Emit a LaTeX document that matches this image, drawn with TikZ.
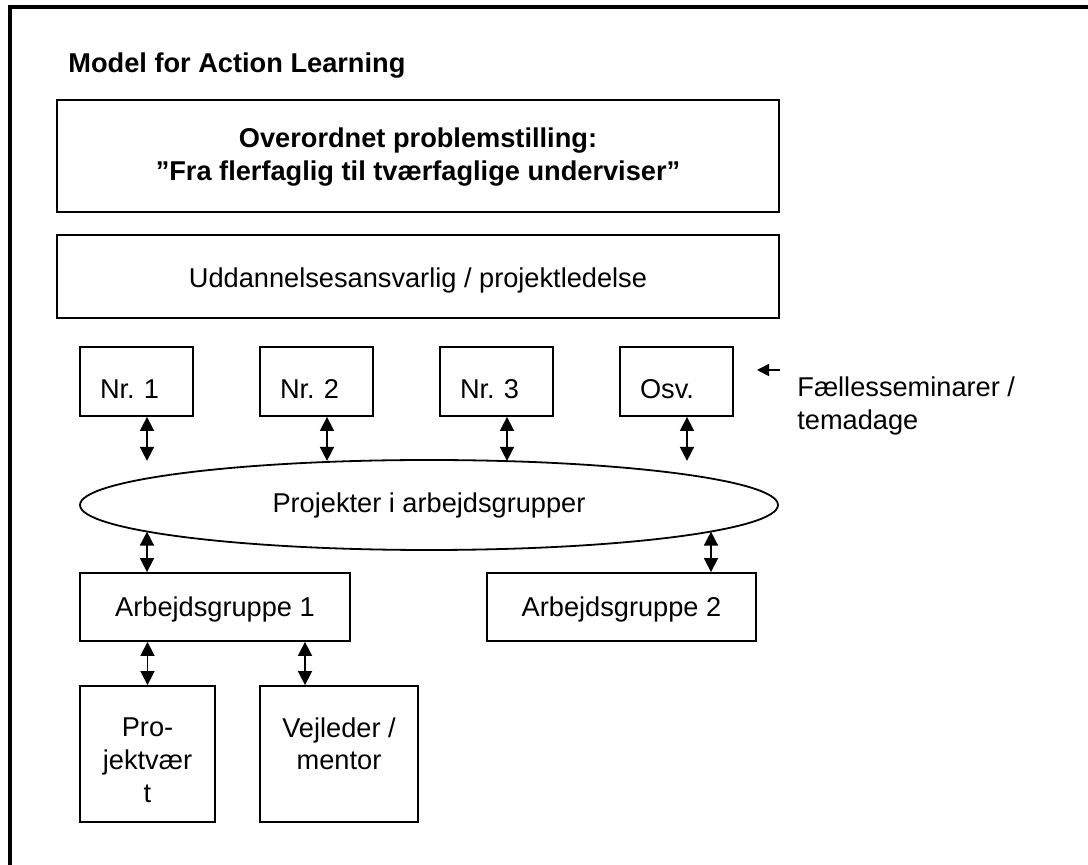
\documentclass[tikz,border=0pt]{standalone}
\usepackage{fontspec}
\setmainfont{Liberation Sans}
\usetikzlibrary{arrows.meta,shapes.geometric}

\newcommand{\brodtekst}{\fontsize{13.6}{16.5}\selectfont}

\begin{document}
\begin{tikzpicture}[x=0.5pt, y=-0.5pt, font=\brodtekst,
    boks/.style={draw=borderColour, line width=0.9pt, inner sep=0pt, align=center},
    fed/.style={font=\brodtekst\bfseries},
    twoway/.style={{Triangle[length=7pt,width=7pt]}-{Triangle[length=7pt,width=7pt]}, line width=0.8pt},
    oneway/.style={-{Triangle[length=6pt,width=6pt]}, line width=0.8pt}]

    \definecolor{borderColour}{HTML}{000000}

    \useasboundingbox (0,0) rectangle (1088,865);

    % Draw frame
    \draw[borderColour, line width=1.7pt] (10,865) -- (10,7) -- (1088,7);

    % Title
    \node[fed, anchor=base west, inner sep=0pt] (titel) at (68,73) {Model for Action Learning};

    % Problem and leadership boxes
    \node[boks, fed, minimum width=361pt, text height=40.5pt, text depth=15.5pt] (problem) at (418,156)
        {Overordnet problemstilling:\\”Fra flerfaglig til tværfaglige underviser”};
    \node[boks, minimum width=361pt, text height=26.5pt, text depth=15pt] (ledelse) at (418,276.5)
        {Uddannelsesansvarlig / projektledelse};

    % Seminar boxes
    \foreach \navn/\x/\lbl in {nr1/136.5/Nr.\ 1, nr2/316.5/Nr.\ 2, nr3/496.5/Nr.\ 3, osv/676.5/Osv.}
        \node[boks, inner xsep=10pt, text width=36.5pt, align=left, text height=26pt, text depth=8.5pt] (\navn) at (\x,381.5) {\lbl};
    \foreach \navn in {nr1,nr2,nr3,osv}
        \draw[twoway] ([xshift=5.25pt]\navn.south) -- ++(0,44);

    % Seminar note
    \node[anchor=north west, inner sep=0pt, align=left] (faelles) at (797,376) {Fællesseminarer /\\temadage};
    \coordinate (pil) at (780,370);
    \draw[oneway] (pil) -- ++(-23,0);

    % Project ellipse
    \node[draw=borderColour, line width=0.9pt, ellipse, inner sep=0pt, minimum width=349pt, minimum height=45pt] (projekter) at (429,505)
        {Projekter i arbejdsgrupper};
    \coordinate (ellA) at ([shift={(-141pt,-13.3pt)}]projekter.center);
    \coordinate (ellB) at ([shift={(141pt,-13.3pt)}]projekter.center);

    % Work groups
    \node[boks, minimum width=135pt, text height=22pt, text depth=12pt] (gruppe1) at (215,607) {Arbejdsgruppe 1};
    \node[boks, minimum width=134.5pt, text height=22pt, text depth=12pt] (gruppe2) at (621.5,607) {Arbejdsgruppe 2};
    \draw[twoway] (ellA) -- (ellA |- gruppe1.north);
    \draw[twoway] (ellB) -- (ellB |- gruppe2.north);

    % Host and mentor
    \node[boks, minimum width=67.5pt, text height=58.5pt, text depth=9.5pt] (vaert) at (147.5,754) {Pro-\\jektvær\\t};
    \node[boks, minimum width=79pt, text height=42pt, text depth=26pt] (mentor) at (339,754) {Vejleder /\\mentor};
    \draw[twoway] (gruppe1.south -| vaert.north) -- (vaert.north);
    \draw[twoway] ([xshift=-17pt]mentor.north |- gruppe1.south) -- ([xshift=-17pt]mentor.north);

\end{tikzpicture}
\end{document}
